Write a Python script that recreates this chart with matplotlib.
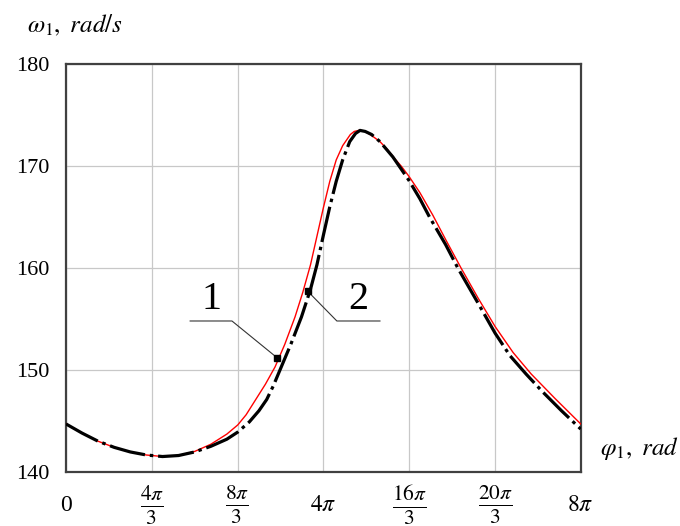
import numpy as np
import matplotlib
matplotlib.use("Agg")
import matplotlib.pyplot as plt

plt.rcParams['mathtext.fontset'] = 'stix'
plt.rcParams['font.family'] = ['Liberation Serif', 'DejaVu Serif']
plt.rcParams['lines.scale_dashes'] = False

# curve 1 (red, solid): phi in units of pi, omega rad/s
phi1 = [0.0, 0.25, 0.5, 0.75, 1.0, 1.25, 1.5, 1.75, 2.0, 2.25, 2.5, 2.67, 2.8, 2.93, 3.1, 3.25,
        3.4, 3.56, 3.68, 3.8, 3.9, 4.0, 4.1, 4.2, 4.3, 4.42, 4.48, 4.55, 4.65, 4.75, 4.88, 5.0,
        5.1, 5.21, 5.33, 5.5, 5.7, 5.9, 6.14, 6.4, 6.67, 6.95, 7.23, 7.6, 8.0]
w1 = [144.7, 143.8, 143.0, 142.4, 141.95, 141.65, 141.5, 141.6, 142.0, 142.7, 143.7, 144.6, 145.6, 146.9, 148.6, 150.3,
      152.5, 155.2, 157.6, 160.3, 163.1, 165.9, 168.5, 170.6, 172.0, 173.1, 173.4, 173.5, 173.4, 173.0, 172.4, 171.6,
      170.8, 170.0, 169.0, 167.4, 165.2, 162.8, 160.0, 157.1, 154.25, 151.7, 149.6, 147.2, 144.7]

# curve 2 (black, dash-dot)
phi2 = [0.0, 0.25, 0.5, 0.75, 1.0, 1.25, 1.5, 1.75, 2.0, 2.25, 2.5, 2.67, 2.85, 3.0, 3.12, 3.22,
        3.32, 3.5, 3.66, 3.8, 3.9, 4.0, 4.1, 4.2, 4.3, 4.41, 4.5, 4.57, 4.65, 4.75, 4.88, 5.0,
        5.08, 5.2, 5.33, 5.5, 5.65, 5.9, 6.09, 6.4, 6.67, 6.9, 7.15, 7.4, 7.7, 8.0]
w2 = [144.7, 143.8, 143.0, 142.4, 141.95, 141.65, 141.5, 141.6, 141.95, 142.5, 143.2, 143.9, 144.9, 146.0, 147.1, 148.4,
      149.9, 152.6, 155.2, 157.9, 160.3, 163.2, 166.0, 168.5, 170.6, 172.4, 173.2, 173.5, 173.4, 173.1, 172.4, 171.5,
      170.9, 169.8, 168.6, 166.8, 165.0, 162.3, 160.0, 156.6, 153.6, 151.4, 149.6, 147.9, 146.0, 144.2]

xtick_pos = [0, 4/3, 8/3, 4, 16/3, 20/3, 8]
xtick_lbl = ['0', r'$\frac{4\pi}{3}$', r'$\frac{8\pi}{3}$', r'$4\pi$',
             r'$\frac{16\pi}{3}$', r'$\frac{20\pi}{3}$', r'$8\pi$']
yticks = [140, 150, 160, 170, 180]

# callouts: label, marker point, elbow, end of underline (phi/pi, omega)
callouts = [('1', (3.28, 151.2), (2.58, 154.8), (1.93, 154.8)),
            ('2', (3.76, 157.7), (4.21, 154.8), (4.88, 154.8))]

fig = plt.figure(figsize=(6.8, 5.26), dpi=100)
ax = fig.add_axes([0.097, 0.103, 0.757, 0.775])

ax.plot(np.array(phi1) * np.pi, w1, color='red', lw=1.0, zorder=3)
ax.plot(np.array(phi2) * np.pi, w2, color='black', lw=2.3, zorder=4,
        linestyle=(0, (26, 3.5, 2.5, 3.5)))

for lbl, pt, elbow, end in callouts:
    xs = np.array([pt[0], elbow[0], end[0]]) * np.pi
    ys = [pt[1], elbow[1], end[1]]
    ax.plot(xs, ys, color='#333333', lw=0.8, zorder=5)
    ax.plot(pt[0] * np.pi, pt[1], marker='s', ms=4, color='black', zorder=6)
    ax.text((elbow[0] + end[0]) / 2 * np.pi, elbow[1] + 0.25, lbl, fontsize=29,
            ha='center', va='bottom', zorder=6)

ax.set_xlim(0, 8 * np.pi)
ax.set_ylim(140, 180)
ax.set_xticks(np.array(xtick_pos) * np.pi)
ax.set_xticklabels(xtick_lbl)
for t, s in zip(ax.get_xticklabels(), xtick_lbl):
    t.set_va('center')
    t.set_fontsize(22 if 'frac' in s else 17)
ax.set_yticks(yticks)
ax.set_yticklabels([str(v) for v in yticks], fontsize=16)
ax.tick_params(axis='x', length=0, pad=24)
ax.tick_params(axis='y', length=0, pad=12)
ax.grid(True, color='#c8c8c8', lw=0.9)
ax.set_axisbelow(True)
for s in ax.spines.values():
    s.set_color('#404040')
    s.set_linewidth(1.6)

fig.text(0.04, 0.952, r'$\omega_1,\ rad/s$', fontsize=18, ha='left', va='center')
fig.text(0.882, 0.148, r'$\varphi_1,\ rad$', fontsize=18, ha='left', va='center')

fig.savefig('out.png', dpi=100)
